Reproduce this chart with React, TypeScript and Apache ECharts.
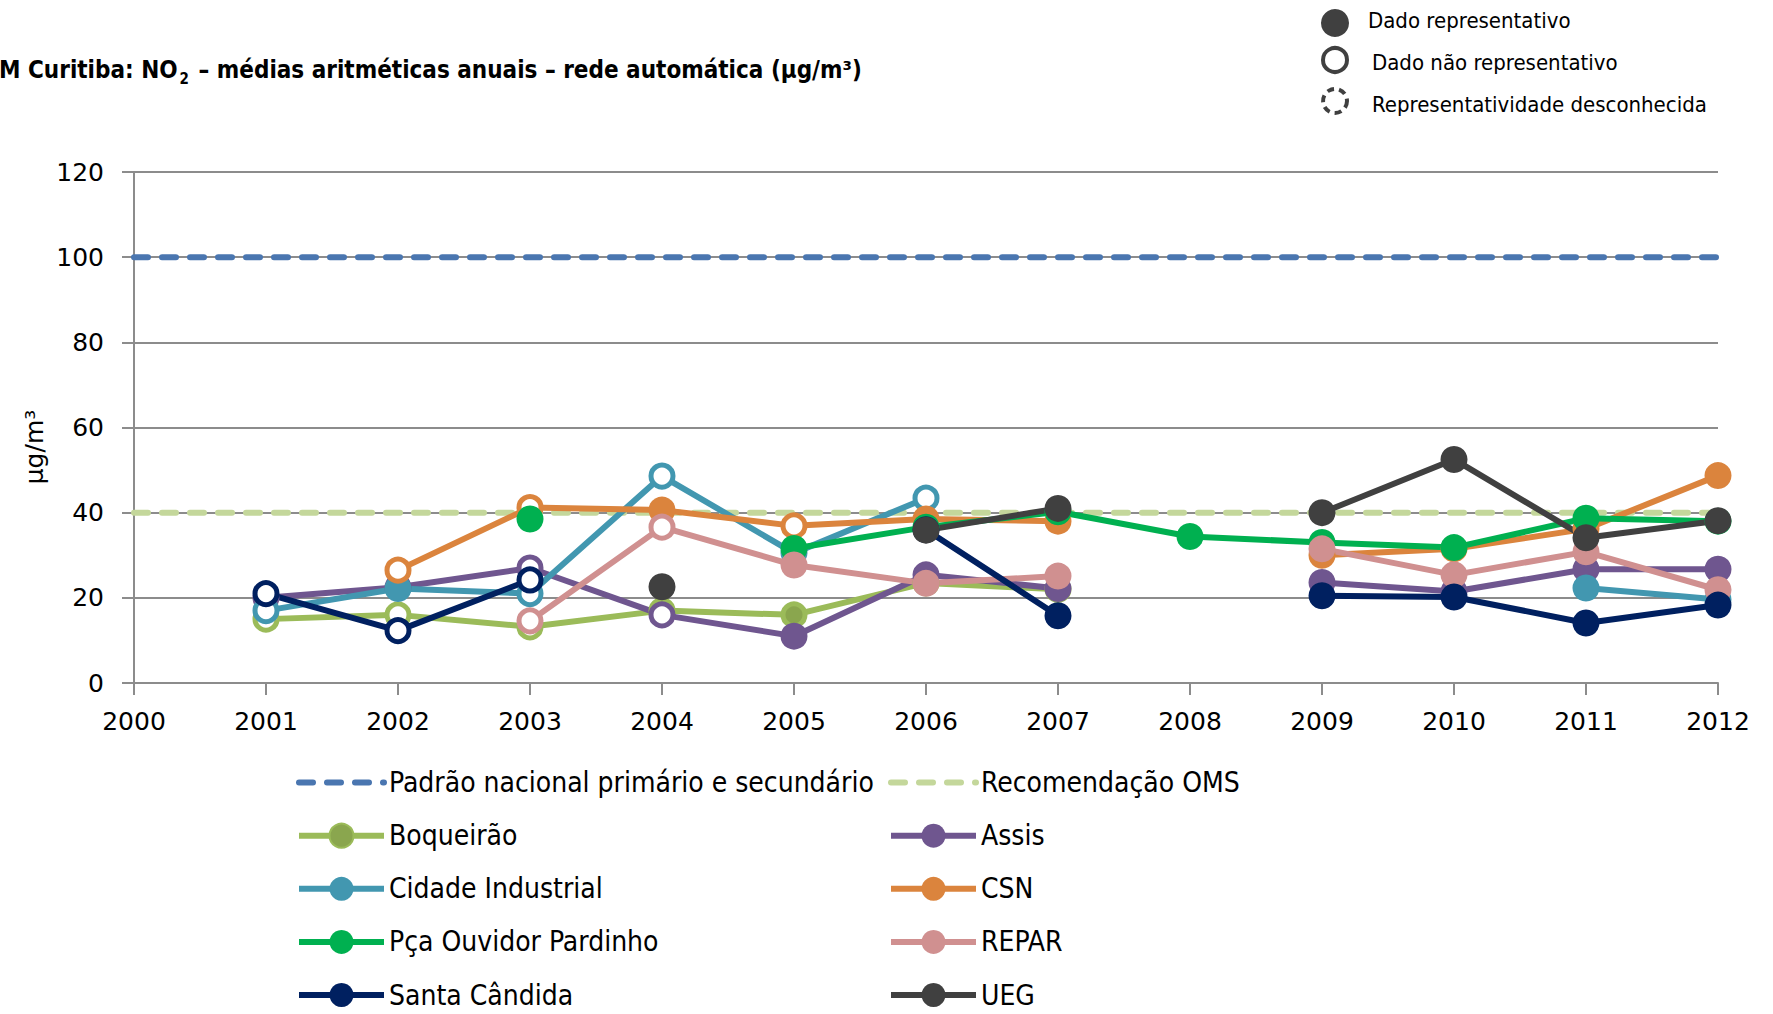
import React, { useEffect, useRef } from "react";
import * as echarts from "echarts";

const years = ["2000", "2001", "2002", "2003", "2004", "2005", "2006", "2007", "2008", "2009", "2010", "2011", "2012"];
const yTicks = [0, 20, 40, 60, 80, 100, 120];

const padraoNacional = [100, 100, 100, 100, 100, 100, 100, 100, 100, 100, 100, 100, 100];
const recomendacaoOMS = [40, 40, 40, 40, 40, 40, 40, 40, 40, 40, 40, 40, 40];

const boqueirao = [null, 15, 16, 13.2, 17, 16, 23.5, 22, null, null, null, null, null];
const boqueiraoOpen = ["2001", "2002", "2003"];
const assis = [null, 20, 22.5, 27, 16, 11, 25.4, 22.2, null, 23.6, 21.5, 26.7, 26.7];
const assisOpen = ["2001", "2003", "2004"];
const cidadeIndustrial = [null, 17, 22.2, 21, 48.6, 30.5, 43.4, null, null, null, null, 22.3, 19.6];
const cidadeIndustrialOpen = ["2001", "2003", "2004", "2006"];
const csn = [null, null, 26.5, 41.2, 40.6, 36.9, 38.5, 38, null, 30, 31.5, 36.2, 48.7];
const csnOpen = ["2002", "2003", "2005"];
const pracaOuvidor = [null, null, null, 38.5, null, 31.6, 36.6, 40.2, 34.4, 33, 31.8, 38.7, 38];
const pracaOuvidorOpen: string[] = [];
const repar = [null, null, null, 14.6, 36.6, 27.7, 23.4, 25.1, null, 31.5, 25.4, 30.8, 21.9];
const reparOpen = ["2003", "2004"];
const santaCandida = [null, 21, 12.3, 24.2, null, null, 36, 15.8, null, 20.5, 20.2, 14.1, 18.3];
const santaCandidaOpen = ["2001", "2002", "2003"];
const ueg = [null, null, null, null, 22.6, null, 35.9, 41, null, 40, 52.5, 34.1, 38.1];
const uegOpen: string[] = [];

const legendColumn1 = ["Padrão nacional primário e secundário", "Boqueirão", "Cidade Industrial", "Pça Ouvidor Pardinho", "Santa Cândida"];
const legendColumn2 = ["Recomendação OMS", "Assis", "CSN", "REPAR", "UEG"];

const NARROW = "'DejaVu Sans Condensed', 'DejaVu Sans', sans-serif";
const AXISFONT = "'DejaVu Sans', Verdana, sans-serif";

function stationSeries(
  name: string,
  color: string,
  values: (number | null)[],
  openYears: string[],
  fill?: string
) {
  return {
    name,
    type: "line",
    symbol: "circle",
    symbolSize: 27,
    showAllSymbol: true,
    connectNulls: false,
    lineStyle: { color, width: 6 },
    itemStyle: fill ? { color: fill, borderColor: color, borderWidth: 5 } : { color },
    emphasis: { disabled: true },
    data: values.map((v, i) => {
      if (v == null) return "-";
      if (openYears.includes(years[i])) {
        return {
          value: v,
          symbolSize: 22,
          itemStyle: { color: "#ffffff", borderColor: color, borderWidth: 5 },
        };
      }
      return {
        value: v,
        symbolSize: fill ? 22 : 27,
        itemStyle: fill
          ? { color: fill, borderColor: color, borderWidth: 5 }
          : { color, borderWidth: 0 },
      };
    }),
  };
}

function refSeries(name: string, color: string, values: number[]) {
  return {
    name,
    type: "line",
    symbol: "none",
    lineStyle: { color, width: 6, type: [14, 14], cap: "round" },
    itemStyle: { color, opacity: 0 },
    emphasis: { disabled: true },
    data: values,
  };
}

export default function App() {
  const ref = useRef<HTMLDivElement>(null);
  useEffect(() => {
    if (!ref.current) return;
    const chart = echarts.init(ref.current, undefined, { renderer: "svg" });
    const legendText = { fontSize: 28, fontFamily: NARROW, color: "#000" };
    const rowCenter = (i: number) => 783.6 + 53.1 * i;
    const mkLegend = (name: string, i: number, left: number) => ({
      orient: "horizontal",
      left,
      top: rowCenter(i) - 15,
      padding: 0,
      itemWidth: 85,
      itemHeight: 30,
      selectedMode: false,
      textStyle: legendText,
      lineStyle: { width: 6 },
      data: [name],
    });
    chart.setOption({
      animation: false,
      backgroundColor: "#ffffff",
      grid: { left: 134, right: 55, top: 172, bottom: 331, containLabel: false },
      xAxis: {
        type: "category",
        data: years,
        boundaryGap: false,
        axisLine: { lineStyle: { color: "#8c8c8c", width: 2 } },
        axisTick: { show: true, length: 12, interval: 0, lineStyle: { color: "#8c8c8c", width: 2 } },
        axisLabel: { interval: 0, margin: 26, fontSize: 25, fontFamily: AXISFONT, color: "#000" },
        splitLine: { show: false },
      },
      yAxis: {
        type: "value",
        min: yTicks[0],
        max: yTicks[yTicks.length - 1],
        interval: 20,
        axisLine: { show: true, lineStyle: { color: "#8c8c8c", width: 2 } },
        axisTick: { show: true, length: 12, lineStyle: { color: "#8c8c8c", width: 2 } },
        axisLabel: { margin: 30, fontSize: 25, fontFamily: AXISFONT, color: "#000" },
        splitLine: { show: true, lineStyle: { color: "#8c8c8c", width: 2 } },
      },
      legend: [
        ...legendColumn1.map((n, i) => mkLegend(n, i, 296)),
        ...legendColumn2.map((n, i) => mkLegend(n, i, 888)),
      ],
      series: [
        refSeries("Padrão nacional primário e secundário", "#4A76B0", padraoNacional),
        refSeries("Recomendação OMS", "#C4D79B", recomendacaoOMS),
        stationSeries("Boqueirão", "#9BBB59", boqueirao, boqueiraoOpen, "#8AA64E"),
        stationSeries("Assis", "#6F568F", assis, assisOpen),
        stationSeries("Cidade Industrial", "#4297B0", cidadeIndustrial, cidadeIndustrialOpen),
        stationSeries("CSN", "#DB843D", csn, csnOpen),
        stationSeries("Pça Ouvidor Pardinho", "#00B050", pracaOuvidor, pracaOuvidorOpen),
        stationSeries("REPAR", "#D09090", repar, reparOpen),
        stationSeries("Santa Cândida", "#002060", santaCandida, santaCandidaOpen),
        stationSeries("UEG", "#404040", ueg, uegOpen),
      ],
      graphic: [
        {
          type: "text",
          x: -1,
          y: 70,
          style: {
            text: "{a|M Curitiba: NO}{s|2}{a| – médias aritméticas anuais – rede automática (μg/m³)}",
            verticalAlign: "middle",
            rich: {
              a: { fontSize: 24, fontWeight: "bold", fontFamily: NARROW, fill: "#000", lineHeight: 32 },
              s: { fontSize: 15, fontWeight: "bold", fontFamily: NARROW, fill: "#000", lineHeight: 32, verticalAlign: "bottom", padding: [14, 2, 0, 2] },
            },
          },
        },
        {
          type: "text",
          x: 34,
          y: 447,
          rotation: Math.PI / 2,
          style: { text: "μg/m³", fontSize: 25, fontFamily: AXISFONT, fill: "#000", align: "center", verticalAlign: "middle" },
        },
        { type: "circle", shape: { cx: 1335, cy: 23, r: 14 }, style: { fill: "#404040" } },
        { type: "circle", shape: { cx: 1335, cy: 60, r: 12 }, style: { fill: "#fff", stroke: "#404040", lineWidth: 4 } },
        { type: "circle", shape: { cx: 1335, cy: 101, r: 12 }, style: { fill: "#fff", stroke: "#404040", lineWidth: 4, lineDash: [7, 5] } },
        {
          type: "text",
          x: 1368,
          y: 20,
          style: { text: "Dado representativo", fontSize: 22, fontFamily: NARROW, fill: "#000", verticalAlign: "middle" },
        },
        {
          type: "text",
          x: 1372,
          y: 62,
          style: { text: "Dado não representativo", fontSize: 22, fontFamily: NARROW, fill: "#000", verticalAlign: "middle" },
        },
        {
          type: "text",
          x: 1372,
          y: 104,
          style: { text: "Representatividade desconhecida", fontSize: 22, fontFamily: NARROW, fill: "#000", verticalAlign: "middle" },
        },
      ],
    });
    return () => chart.dispose();
  }, []);
  return (
    <div
      ref={ref}
      style={{ position: "absolute", left: 0, top: 0, width: 1773, height: 1014, background: "#fff" }}
    />
  );
}
